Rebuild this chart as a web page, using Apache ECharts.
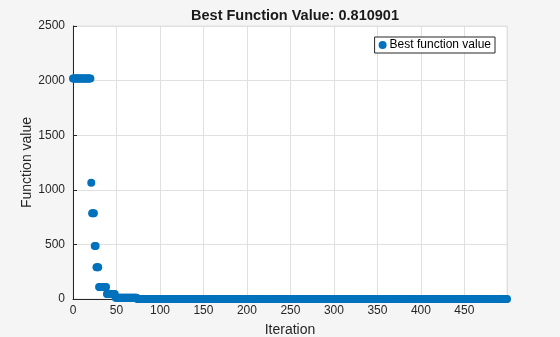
<!DOCTYPE html>
<html>
<head>
<meta charset="utf-8">
<script src="https://cdn.jsdelivr.net/npm/echarts@6/dist/echarts.min.js"></script>
<style>
html,body{margin:0;padding:0;background:#f5f5f5;}
#chart{width:560px;height:337px;}
</style>
</head>
<body>
<div id="chart"></div>
<script>
// Runs of constant best function value: iteration where each run starts, and its value
const runStarts = [0, 21, 22, 25, 27, 30, 39, 49, 74];
const runValues = [2020, 1065, 785, 485, 290, 110, 46, 12, 0.810901];
const lastIteration = 499;
const xTicks = [0, 50, 100, 150, 200, 250, 300, 350, 400, 450];
const yTicks = [0, 500, 1000, 1500, 2000, 2500];
const titleText = 'Best Function Value: 0.810901';
const seriesName = 'Best function value';

const points = [];
for (let r = 0; r < runStarts.length; r++) {
  const end = r + 1 < runStarts.length ? runStarts[r + 1] - 1 : lastIteration;
  for (let it = runStarts[r]; it <= end; it++) points.push([it, runValues[r]]);
}

const txt = '#262626';
const font = 'Liberation Sans, Arial, Helvetica, sans-serif';
const chart = echarts.init(document.getElementById('chart'), null, {renderer: 'canvas'});
chart.setOption({
  backgroundColor: '#f5f5f5',
  animation: false,
  title: {
    text: titleText,
    left: 290, top: 3, textAlign: 'center',
    textStyle: {fontFamily: font, fontSize: 14.5, fontWeight: 'bold', color: '#1a1a1a'}
  },
  legend: {
    data: [seriesName],
    right: 65, top: 37,
    orient: 'vertical',
    icon: 'circle', itemWidth: 8, itemHeight: 8, itemGap: 0,
    padding: [2, 4, 2, 4],
    backgroundColor: '#ffffff', borderColor: '#262626', borderWidth: 1, borderRadius: 0,
    textStyle: {fontFamily: font, fontSize: 12, color: '#000', padding: [0, 0, 0, -2]}
  },
  grid: {
    left: 73, right: 53, top: 26, bottom: 38,
    containLabel: false, outerBoundsMode: 'none',
    show: true, backgroundColor: '#ffffff', borderColor: '#e0e0e0', borderWidth: 1
  },
  xAxis: {
    type: 'value', min: 0, max: lastIteration, interval: 50,
    name: 'Iteration', nameLocation: 'middle', nameGap: 24, nameMoveOverlap: false,
    nameTextStyle: {fontFamily: font, fontSize: 14, color: txt},
    axisLine: {show: true, lineStyle: {color: txt, width: 1}},
    axisTick: {show: true, inside: true, length: 4, lineStyle: {color: txt}},
    axisLabel: {fontFamily: font, fontSize: 12, color: txt, margin: 6, showMaxLabel: false,
      formatter: v => xTicks.includes(v) ? String(v) : ''},
    splitLine: {show: true, lineStyle: {color: '#e0e0e0', width: 1}}
  },
  yAxis: {
    type: 'value', min: 0, max: 2500, interval: 500,
    name: 'Function value', nameLocation: 'middle', nameGap: 39, nameRotate: 90, nameMoveOverlap: false,
    nameTextStyle: {fontFamily: font, fontSize: 14, color: txt},
    axisLine: {show: true, lineStyle: {color: txt, width: 1}},
    axisTick: {show: true, inside: true, length: 4, lineStyle: {color: txt}},
    axisLabel: {fontFamily: font, fontSize: 12, color: txt, margin: 8,
      formatter: v => yTicks.includes(v) ? String(v) : ''},
    splitLine: {show: true, lineStyle: {color: '#e0e0e0', width: 1}}
  },
  series: [{
    name: seriesName,
    type: 'scatter',
    data: points,
    symbol: 'circle', symbolSize: 8,
    itemStyle: {color: '#0072BD', opacity: 1},
    clip: false
  }]
});
</script>
</body>
</html>
